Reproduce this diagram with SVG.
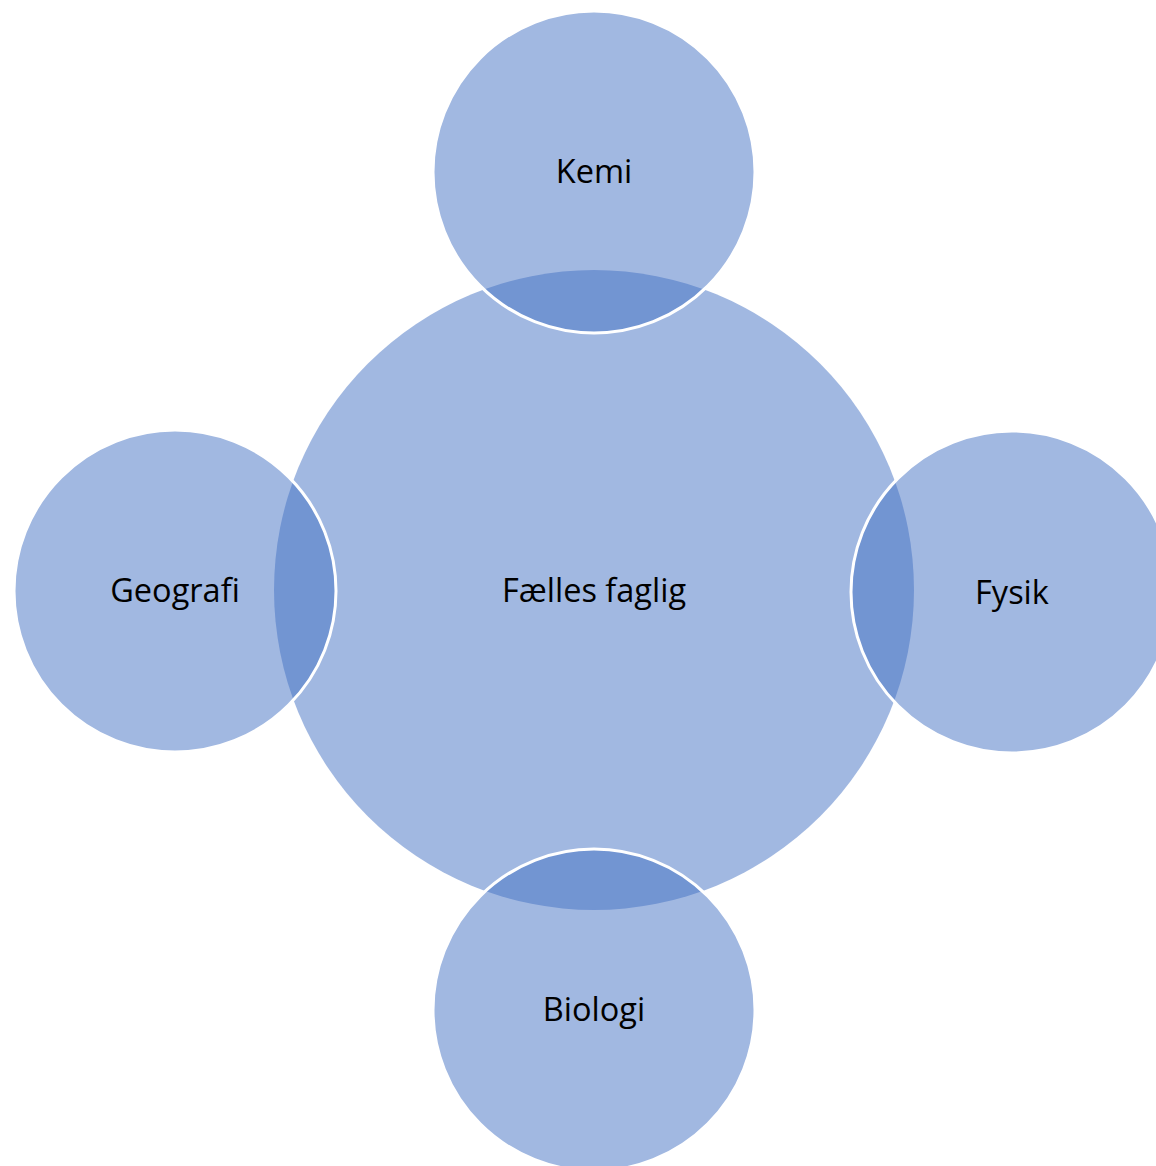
<svg xmlns="http://www.w3.org/2000/svg" width="1156" height="1166" viewBox="0 0 1156 1166">
<style>
.c{fill:#4472C4;fill-opacity:0.5}
.s{stroke:#FFFFFF;stroke-width:3}
.t{font-family:"Open Sans","Noto Sans",sans-serif;font-size:32.5px;fill:#000000;text-anchor:middle}
</style>
<rect width="1156" height="1166" fill="#FFFFFF"/>
<g id="center">
<circle class="c" cx="594" cy="590" r="320"/>
<text class="t" x="594" y="602">Fælles faglig</text>
</g>
<g id="kemi">
<circle class="c s" cx="594" cy="172" r="161"/>
<text class="t" x="594" y="183">Kemi</text>
</g>
<g id="fysik">
<circle class="c s" cx="1012" cy="592" r="161"/>
<text class="t" x="1012" y="604">Fysik</text>
</g>
<g id="biologi">
<circle class="c s" cx="594" cy="1010" r="161"/>
<text class="t" x="594" y="1021">Biologi</text>
</g>
<g id="geografi">
<circle class="c s" cx="175" cy="591" r="161"/>
<text class="t" x="175" y="602">Geografi</text>
</g>
<g id="connectors"></g>
</svg>
